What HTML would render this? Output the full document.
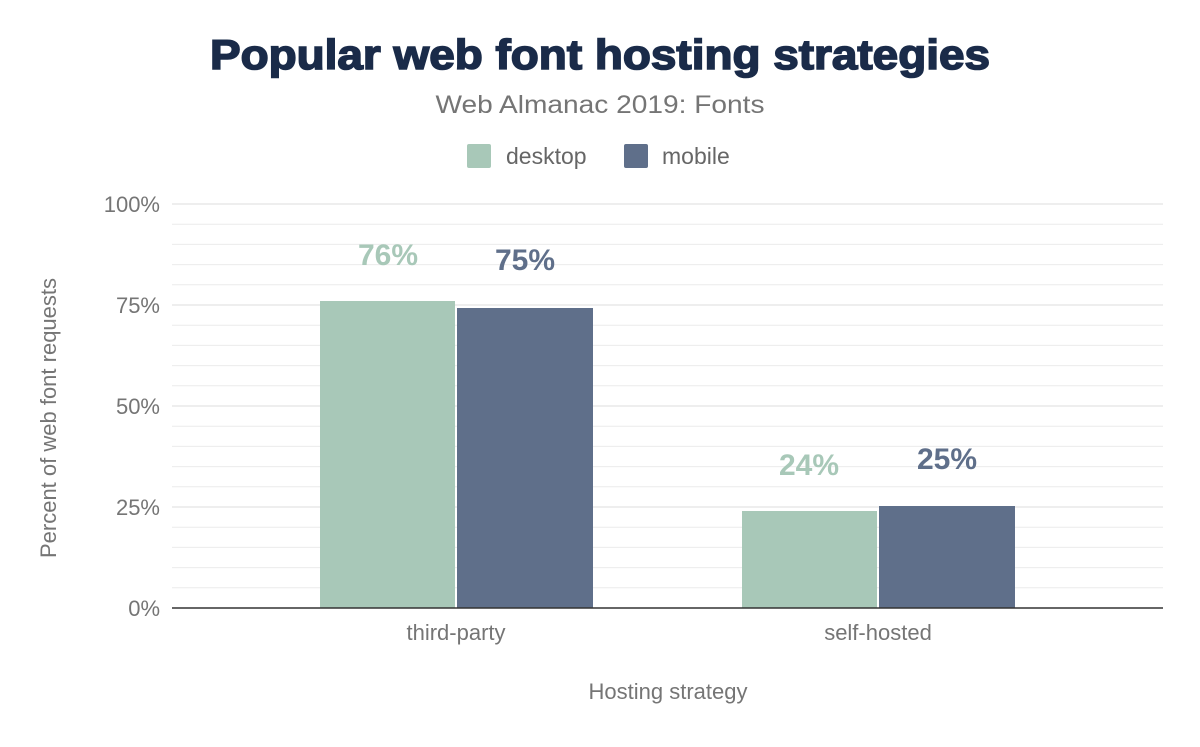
<!DOCTYPE html>
<html><head><style>
body{margin:0;background:#fff;}
svg text{font-family:"Liberation Sans",sans-serif;}
</style></head><body>
<svg width="1200" height="742" xmlns="http://www.w3.org/2000/svg">
<rect width="1200" height="742" fill="#fff"/>
<text x="600" y="69" text-anchor="middle" font-size="42" font-weight="bold" fill="#1a2b49" textLength="780" lengthAdjust="spacingAndGlyphs" stroke="#1a2b49" stroke-width="1.6">Popular web font hosting strategies</text>
<text x="600" y="113" text-anchor="middle" font-size="25" fill="#757575" textLength="329" lengthAdjust="spacingAndGlyphs">Web Almanac 2019: Fonts</text>
<rect x="467" y="144" width="24" height="24" rx="2" fill="#a8c8b8"/>
<text x="506" y="164" font-size="23" fill="#666">desktop</text>
<rect x="624" y="144" width="24" height="24" rx="2" fill="#5f6f8a"/>
<text x="662" y="164" font-size="23" fill="#666">mobile</text>
<g stroke="#ececec" stroke-width="1">
<line x1="172" x2="1163" y1="224.2" y2="224.2"/><line x1="172" x2="1163" y1="244.4" y2="244.4"/><line x1="172" x2="1163" y1="264.6" y2="264.6"/><line x1="172" x2="1163" y1="284.8" y2="284.8"/>
<line x1="172" x2="1163" y1="325.2" y2="325.2"/><line x1="172" x2="1163" y1="345.4" y2="345.4"/><line x1="172" x2="1163" y1="365.6" y2="365.6"/><line x1="172" x2="1163" y1="385.8" y2="385.8"/>
<line x1="172" x2="1163" y1="426.2" y2="426.2"/><line x1="172" x2="1163" y1="446.4" y2="446.4"/><line x1="172" x2="1163" y1="466.6" y2="466.6"/><line x1="172" x2="1163" y1="486.8" y2="486.8"/>
<line x1="172" x2="1163" y1="527.2" y2="527.2"/><line x1="172" x2="1163" y1="547.4" y2="547.4"/><line x1="172" x2="1163" y1="567.6" y2="567.6"/><line x1="172" x2="1163" y1="587.8" y2="587.8"/>
</g>
<g stroke="#dcdcdc" stroke-width="1">
<line x1="172" x2="1163" y1="204" y2="204"/><line x1="172" x2="1163" y1="305" y2="305"/><line x1="172" x2="1163" y1="406" y2="406"/><line x1="172" x2="1163" y1="507" y2="507"/>
</g>
<g font-size="22" fill="#757575" text-anchor="end">
<text x="160" y="212">100%</text><text x="160" y="313">75%</text><text x="160" y="414">50%</text><text x="160" y="515">25%</text><text x="160" y="616">0%</text>
</g>
<rect x="320" y="301" width="135" height="307" fill="#a8c8b8"/>
<rect x="457" y="308" width="136" height="300" fill="#5f6f8a"/>
<rect x="742" y="511" width="135" height="97" fill="#a8c8b8"/>
<rect x="879" y="506" width="136" height="102" fill="#5f6f8a"/>
<line x1="172" x2="1163" y1="608" y2="608" stroke="#333" stroke-width="1.5"/>
<g font-size="30" font-weight="bold" text-anchor="middle">
<text x="388" y="265" fill="#a8c8b8">76%</text><text x="525" y="270" fill="#5f6f8a">75%</text>
<text x="809" y="475" fill="#a8c8b8">24%</text><text x="947" y="469" fill="#5f6f8a">25%</text>
</g>
<g font-size="22" fill="#757575" text-anchor="middle">
<text x="456" y="640">third-party</text><text x="878" y="640">self-hosted</text>
<text x="668" y="699">Hosting strategy</text>
<text transform="translate(56,418) rotate(-90)">Percent of web font requests</text>
</g>
</svg>
</body></html>
